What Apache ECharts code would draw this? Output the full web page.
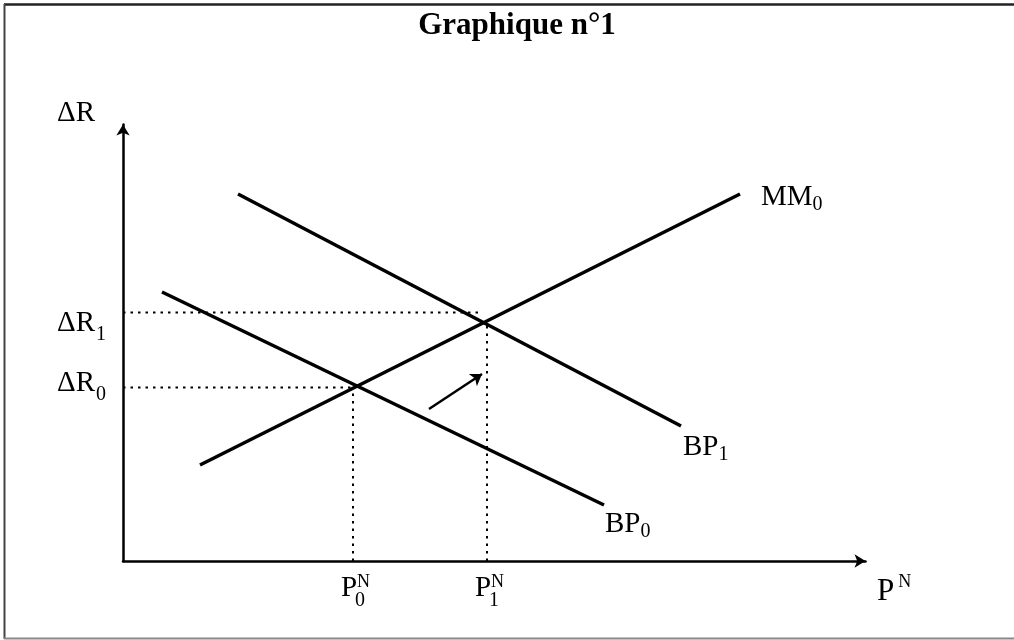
<!DOCTYPE html>
<html><head><meta charset="utf-8">
<script src="https://cdn.jsdelivr.net/npm/echarts@6/dist/echarts.min.js"></script>
<style>html,body{margin:0;padding:0;background:#fff}#c{width:1014px;height:640px}</style>
</head><body><div id="c"></div>
<script>
// ---- data (units along each axis, origin at the axes' corner) ----
const titleText = 'Graphique n°1';
const mm0 = [[77, 96], [617, 367]];          // MM0 curve end points
const bp0 = [[39, 269], [481, 56]];          // BP0 curve end points
const bp1 = [[115, 367], [558, 135]];        // BP1 curve end points
const priceLevels = [230, 364];              // P0N, P1N
const reserveLevels = [173.5, 248.5];        // ΔR0, ΔR1
const equilibria = [[229, 173], [359, 238]]; // where the dotted guides stop
const shiftArrow = [[306, 152], [359, 187]]; // shift from E0 toward E1
const xMax = 742.5, yMax = 436.5;
const curveLabels = [['MM', '0'], ['BP', '1'], ['BP', '0']];
const priceLabels = [['P', '0', 'N'], ['P', '1', 'N']];
const reserveLabels = [['ΔR', '0'], ['ΔR', '1']];

const FONT = '"Liberation Serif","Times New Roman",serif';
const chart = echarts.init(document.getElementById('c'), null, {renderer: 'canvas'});

const solid = {color: '#000', width: 3.5};
const dotted = {color: '#000', width: 2, type: [2.5, 5]};
function seg(data, style) {
  return {type: 'line', data: data, showSymbol: false, symbol: 'none', silent: true,
    lineStyle: style, animation: false, z: 3};
}
const series = [seg(mm0, solid), seg(bp0, solid), seg(bp1, solid)];
for (let i = 0; i < 2; i++) {
  series.push(seg([[0, reserveLevels[i]], [equilibria[i][0], reserveLevels[i]]], dotted));
  series.push(seg([[priceLevels[i], 0], [priceLevels[i], equilibria[i][1]]], dotted));
}
series.push({type: 'lines', coordinateSystem: 'cartesian2d', silent: true, animation: false,
  symbol: ['none', 'arrow'], symbolSize: [9, 11],
  lineStyle: {color: '#000', width: 2.5, opacity: 1},
  data: [{coords: shiftArrow}], z: 4});

const axisCommon = {
  type: 'value', min: 0,
  axisLabel: {show: false}, axisTick: {show: false}, splitLine: {show: false},
  axisLine: {show: true, onZero: false, symbol: ['none', 'arrow'], symbolSize: [10, 11],
    lineStyle: {color: '#000', width: 2.5}}
};
chart.setOption({
  animation: false,
  backgroundColor: '#fff',
  grid: {left: 123, right: 1014 - 865.5, top: 124.5, bottom: 79, containLabel: false},
  xAxis: Object.assign({}, axisCommon, {max: xMax}),
  yAxis: Object.assign({}, axisCommon, {max: yMax}),
  series: series
});

// ---- text labels anchored on the data through the chart's scales ----
const ctx = document.createElement('canvas').getContext('2d');
function fontStr(size, bold) { return (bold ? 'bold ' : '') + size + 'px ' + FONT; }
function tw(t, size, bold) { ctx.font = fontStr(size, bold); return ctx.measureText(t).width; }
const g = [];
function txt(t, x, y, size, bold, align) {
  g.push({type: 'text', silent: true, z: 10, style: {
    text: t, x: x, y: y, font: fontStr(size, bold), fill: '#000',
    textAlign: align || 'left', align: align || 'left',
    textVerticalAlign: 'middle', verticalAlign: 'middle'}});
}
function P(x, y) { return chart.convertToPixel({gridIndex: 0}, [x, y]); }
const MAIN = 29, SUB = 20, SUP = 18;

// title
txt(titleText, 517, 26, 31, true, 'center');

// axis titles
const yTop = P(0, yMax), xEnd = P(xMax, 0);
txt('ΔR', yTop[0] - 28 - tw('ΔR', MAIN), yTop[1] - 11, MAIN);
txt('P', xEnd[0] + 11.5, xEnd[1] + 30.5, 31);
txt('N', xEnd[0] + 11.5 + tw('P', 31) + 4, xEnd[1] + 21.5, SUP);

// reserve labels on the vertical axis
const rOff = [[-4.5, 7.5], [10.5, 22]];
for (let i = 0; i < 2; i++) {
  const p = P(0, reserveLevels[i]);
  const w = tw(reserveLabels[i][0], MAIN);
  const left = p[0] - 28 - w;
  txt(reserveLabels[i][0], left, p[1] + rOff[i][0], MAIN);
  txt(reserveLabels[i][1], left + w + 1, p[1] + rOff[i][1], SUB);
}

// price labels under the horizontal axis
for (let i = 0; i < 2; i++) {
  const p = P(priceLevels[i], 0);
  const wp = tw('P', MAIN);
  const left = p[0] - 4 - wp / 2;
  txt(priceLabels[i][0], left, p[1] + 27, MAIN);
  txt(priceLabels[i][1], left + wp - 2, p[1] + 40, SUB);
  txt(priceLabels[i][2], left + wp, p[1] + 21.5, SUP);
}

// curve labels at the curves' ends
const curves = [mm0, bp0, bp1];
const cOff = [[21, 3.5, 11], [1, 19, 27], [2, 21, 29]];
const cl = [curveLabels[0], curveLabels[2], curveLabels[1]];
for (let i = 0; i < 3; i++) {
  const e = P(curves[i][1][0], curves[i][1][1]);
  const left = e[0] + cOff[i][0];
  const w = tw(cl[i][0], MAIN);
  txt(cl[i][0], left, e[1] + cOff[i][1], MAIN);
  txt(cl[i][1], left + w, e[1] + cOff[i][2], SUB);
}

// frame
g.push({type: 'line', silent: true, shape: {x1: 4, y1: 4.5, x2: 1014, y2: 4.5}, style: {stroke: '#222', lineWidth: 2.5}});
g.push({type: 'line', silent: true, shape: {x1: 4.5, y1: 4, x2: 4.5, y2: 639}, style: {stroke: '#444', lineWidth: 2}});
g.push({type: 'line', silent: true, shape: {x1: 4, y1: 638.5, x2: 1014, y2: 638.5}, style: {stroke: '#888', lineWidth: 2}});

chart.setOption({graphic: g});
</script>
</body></html>
